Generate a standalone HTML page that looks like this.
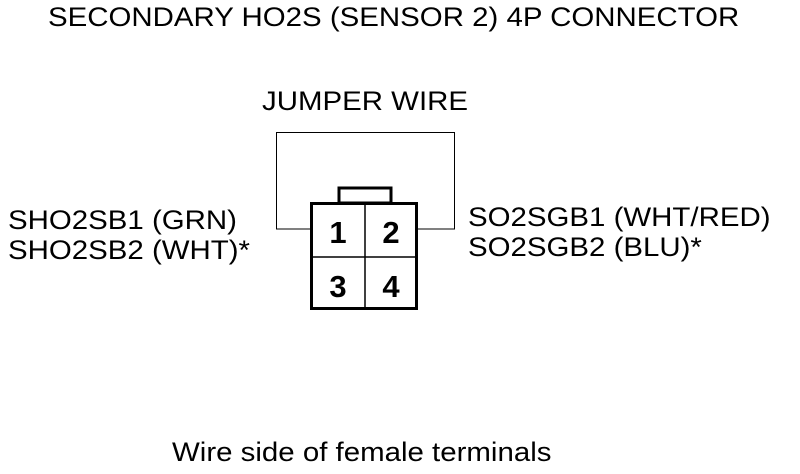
<!DOCTYPE html>
<html><head><style>
body{margin:0;background:#fff;width:800px;height:474px;overflow:hidden;font-family:"Liberation Sans",Arial,sans-serif;}
.t{position:absolute;white-space:nowrap;color:#000;line-height:1;font-size:27px;transform:scaleX(1.09);transform-origin:0 0;}
</style></head><body>
<div class="t" style="left:48px;top:4px;">SECONDARY HO2S (SENSOR 2) 4P CONNECTOR</div>
<div class="t" style="left:262px;top:88px;">JUMPER WIRE</div>
<div class="t" style="left:8px;top:205px;line-height:30px;">SHO2SB1 (GRN)<br>SHO2SB2 (WHT)*</div>
<div class="t" style="left:468px;top:202px;line-height:30px;">SO2SGB1 (WHT/RED)<br>SO2SGB2 (BLU)*</div>
<div class="t" style="left:172px;top:439px;">Wire side of female terminals</div>
<svg width="800" height="474" style="position:absolute;left:0;top:0">
<polyline points="311,229 276.5,229 276.5,132.5 454.5,132.5 454.5,229 418,229" fill="none" stroke="#000" stroke-width="1"/>
<rect x="339" y="188" width="52" height="15" fill="none" stroke="#000" stroke-width="3"/>
<rect x="311.5" y="203.5" width="105" height="105" fill="#fff" stroke="#000" stroke-width="3"/>
<line x1="365" y1="203" x2="365" y2="309" stroke="#000" stroke-width="1.5"/>
<line x1="311" y1="257" x2="417" y2="257" stroke="#000" stroke-width="1.5"/>
<g font-family="Liberation Sans,Arial,sans-serif" font-size="31" font-weight="bold" text-anchor="middle">
<text x="338" y="243">1</text><text x="391" y="243">2</text>
<text x="338" y="297">3</text><text x="391" y="297">4</text>
</g>
</svg>
</body></html>
